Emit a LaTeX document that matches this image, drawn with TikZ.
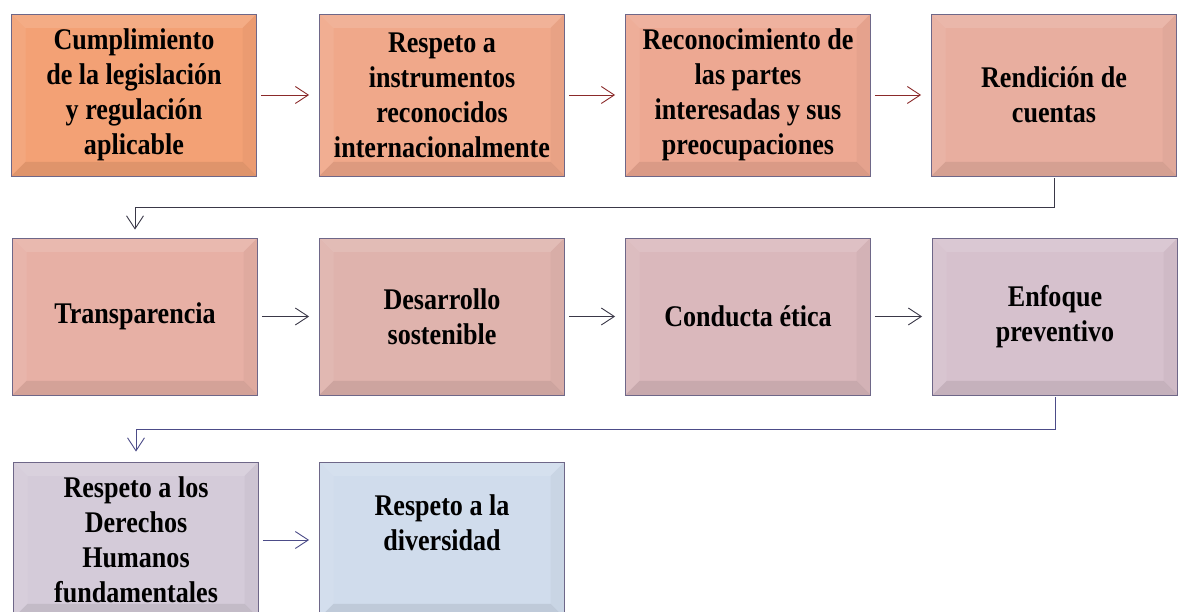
\documentclass[tikz,border=0pt]{standalone}
\usepackage{xcolor}
\usepackage{fontspec}
\setmainfont{Liberation Serif}[FakeStretch=0.87]
\usepackage{tikz}
\usetikzlibrary{positioning,arrows.meta,calc}

\definecolor{cA}{HTML}{F3A175}
\definecolor{cB}{HTML}{F0A88A}
\definecolor{cC}{HTML}{EDA892}
\definecolor{cD}{HTML}{E8AE9F}
\definecolor{cE}{HTML}{E7B0A5}
\definecolor{cF}{HTML}{DFB3AD}
\definecolor{cG}{HTML}{DAB8BC}
\definecolor{cH}{HTML}{D6C1CD}
\definecolor{cI}{HTML}{D4CBD9}
\definecolor{cJ}{HTML}{D0DCEC}
\definecolor{edge}{HTML}{6E6788}
\definecolor{redarrow}{HTML}{8B2A2A}
\definecolor{darkarrow}{HTML}{3A3848}
\definecolor{bluearrow}{HTML}{4C4C88}

\tikzset{
  bevel/.style={path picture={
    \coordinate (bnw) at (path picture bounding box.north west);
    \coordinate (bne) at (path picture bounding box.north east);
    \coordinate (bsw) at (path picture bounding box.south west);
    \coordinate (bse) at (path picture bounding box.south east);
    \fill[white,opacity=.12] (bnw) -- (bne) -- ($(bne)+(-14pt,-14pt)$) -- ($(bnw)+(14pt,-14pt)$) -- cycle;
    \fill[white,opacity=.07] (bnw) -- (bsw) -- ($(bsw)+(14pt,14pt)$) -- ($(bnw)+(14pt,-14pt)$) -- cycle;
    \fill[black,opacity=.08] (bsw) -- (bse) -- ($(bse)+(-14pt,14pt)$) -- ($(bsw)+(14pt,14pt)$) -- cycle;
    \fill[black,opacity=.03] (bse) -- (bne) -- ($(bne)+(-14pt,-14pt)$) -- ($(bse)+(-14pt,14pt)$) -- cycle;
  }},
  box/.style={rectangle,draw=edge,line width=.8pt,bevel,minimum width=245pt,
    minimum height=160pt,inner sep=0pt,align=center,
    font=\fontsize{30}{35}\selectfont\bfseries},
  flow/.style={line width=.9pt,-{Straight Barb[length=13pt,width=17pt]},
    shorten <=4pt,shorten >=10pt},
}

\begin{document}
\begin{tikzpicture}[x=1pt,y=1pt]
\useasboundingbox (0,0) rectangle (1179,612);

% first row
\node[box,fill=cA,minimum height=162pt] (r1) at (134,517) {Cumplimiento\\de la legislación\\y regulación\\aplicable};
\node[box,fill=cB,minimum height=162pt] (r2) at (442,517) {Respeto a\\instrumentos\\reconocidos\\internacionalmente};
\node[box,fill=cC,minimum height=162pt] (r3) at (748,517) {Reconocimiento de\\las partes\\interesadas y sus\\preocupaciones};
\node[box,fill=cD,minimum height=162pt] (r4) at (1054,517) {Rendición de\\cuentas};

% second row
\node[box,fill=cE,minimum height=157pt] (r5) at (135,295.5) {Transparencia};
\node[box,fill=cF,minimum height=157pt] (r6) at (442,295.5) {Desarrollo\\sostenible};
\node[box,fill=cG,minimum height=157pt] (r7) at (748,295.5) {Conducta ética};
\node[box,fill=cH,minimum height=157pt] (r8) at (1055,295.5) {Enfoque\\preventivo};

% third row
\node[box,fill=cI,minimum height=156pt] (r9) at (136,72) {Respeto a los\\Derechos\\Humanos\\fundamentales};
\node[box,fill=cJ,minimum height=156pt] (r10) at (442,72) {Respeto a la\\diversidad\\\mbox{}};

\draw[flow,redarrow] (r1) -- (r2);
\draw[flow,redarrow] (r2) -- (r3);
\draw[flow,redarrow] (r3) -- (r4);
\draw[flow,darkarrow,shorten <=2pt,shorten >=8pt] (r4.south) -- ++(0,-31) -| (r5.north);

\draw[flow,darkarrow] (r5) -- (r6);
\draw[flow,darkarrow] (r6) -- (r7);
\draw[flow,darkarrow] (r7) -- (r8);
\draw[flow,bluearrow,shorten <=2pt,shorten >=10pt] (r8.south) -- ++(0,-34) -| (r9.north);

\draw[flow,bluearrow] (r9) -- (r10);

\end{tikzpicture}
\end{document}
